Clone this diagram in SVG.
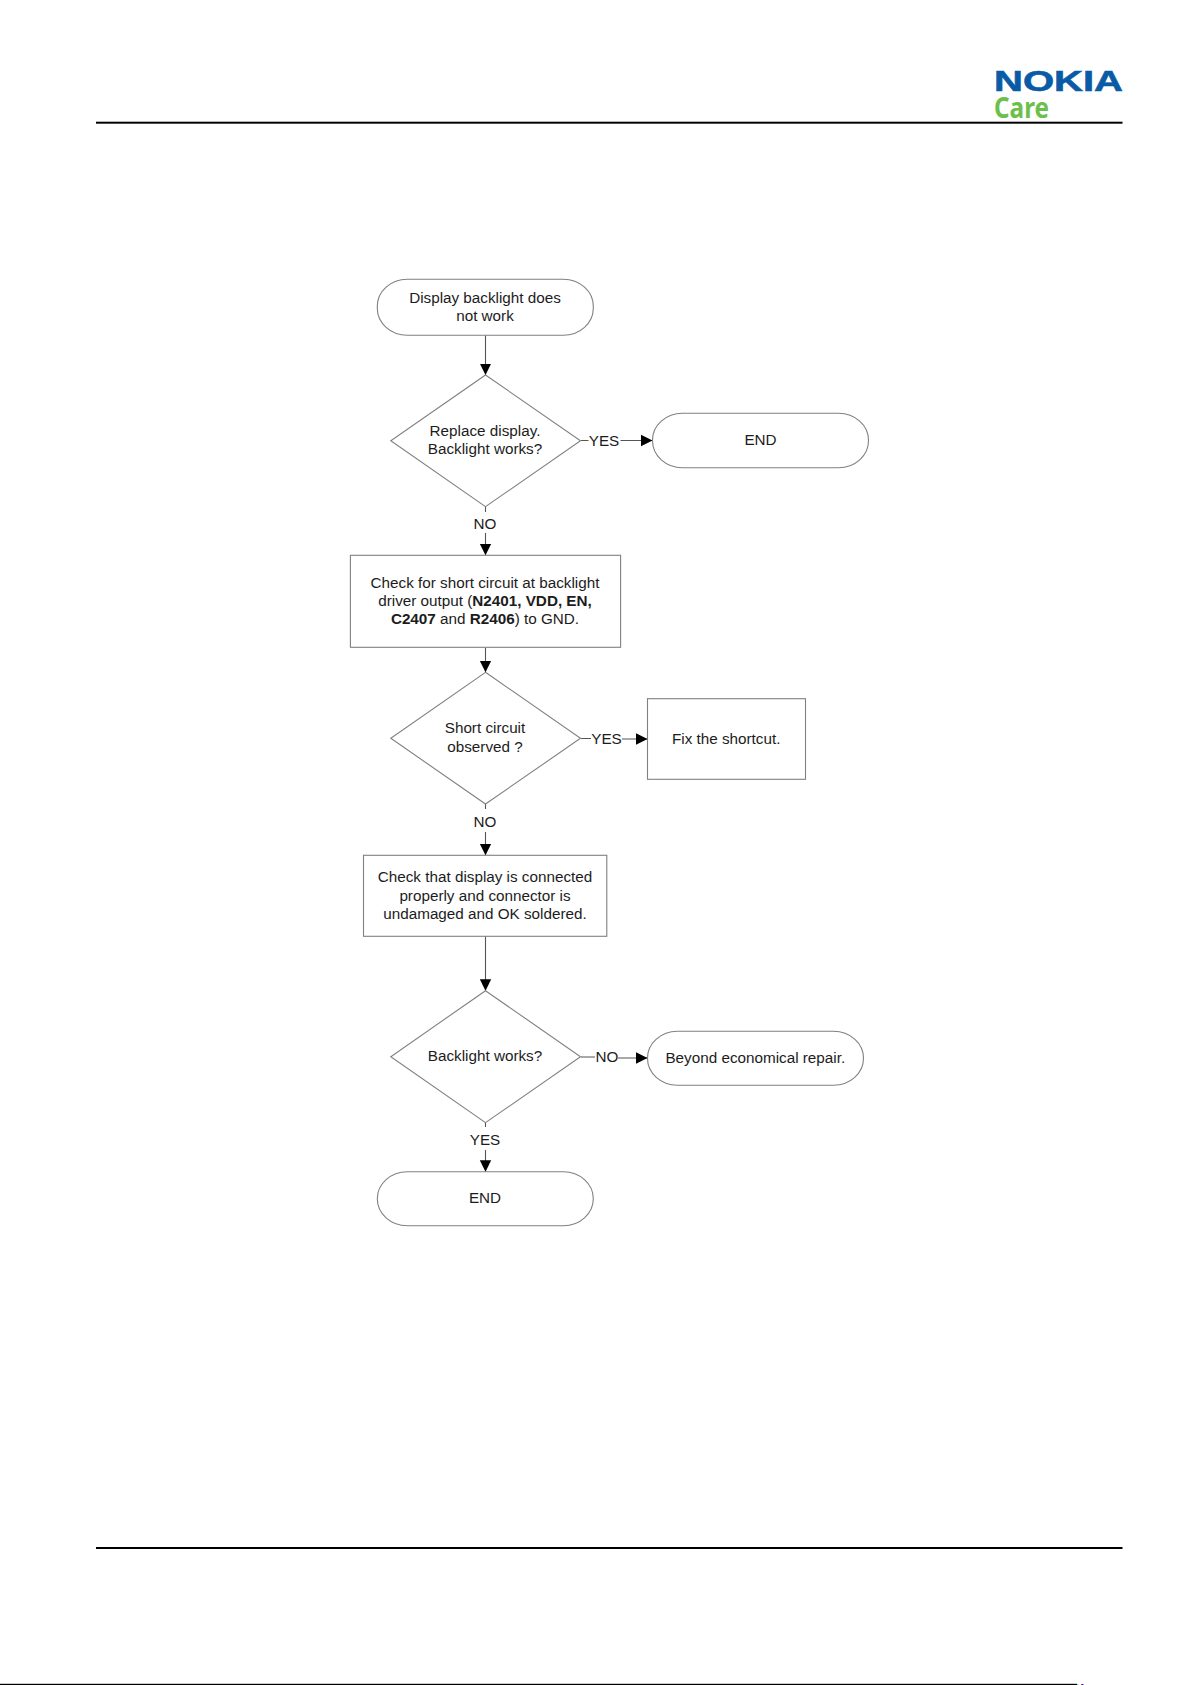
<svg xmlns="http://www.w3.org/2000/svg" width="1192" height="1685" viewBox="0 0 1192 1685">
<style>
.s{fill:#fff;stroke:#808080;stroke-width:1.1}
.c{fill:none;stroke:#555;stroke-width:1.1}
text{font-family:"Liberation Sans",Arial,sans-serif;font-size:15.25px;fill:#1c1c1c;text-anchor:middle}
.b{font-weight:bold}
.rule{fill:#000}
</style>
<defs>
<marker id="a" markerUnits="userSpaceOnUse" markerWidth="13" markerHeight="13" refX="11.5" refY="6.5" orient="auto"><path d="M0 .8L11.5 6.5L0 12.2Z" fill="#000"/></marker>
</defs>
<rect width="1192" height="1685" fill="#fff"/>
<g id="header">
<text x="994" y="90.7" textLength="129" lengthAdjust="spacingAndGlyphs" style="font-size:29px;font-weight:bold;fill:#0a5ba6;text-anchor:start;stroke:#0a5ba6;stroke-width:.6">NOKIA</text>
<text x="994" y="118" textLength="55" lengthAdjust="spacingAndGlyphs" style="font-family:'Noto Sans',sans-serif;font-size:28px;font-weight:700;fill:#6cbf4b;text-anchor:start">Care</text>
<rect class="rule" x="96" y="121.7" width="1026.5" height="2"/>
</g>
<g id="connectors">
<path class="c" marker-end="url(#a)" d="M485.5 335.3V375"/>
<path class="c" marker-end="url(#a)" d="M581 440.5H588.5M620.5 440.5H652.5"/>
<path class="c" marker-end="url(#a)" d="M485.5 507V512M485.5 533V555.3"/>
<path class="c" marker-end="url(#a)" d="M485.5 647.3V672.3"/>
<path class="c" marker-end="url(#a)" d="M581 738.5H591M622 739H647.5"/>
<path class="c" marker-end="url(#a)" d="M485.5 804V809M485.5 832V855.3"/>
<path class="c" marker-end="url(#a)" d="M485.5 936.3V990.7"/>
<path class="c" marker-end="url(#a)" d="M581 1057H595M618 1058H647.5"/>
<path class="c" marker-end="url(#a)" d="M485.5 1122.7V1127M485.5 1150V1171.7"/>
</g>
<g id="start"><rect class="s" x="377.3" y="279.3" width="216" height="56" rx="30" ry="27"/><text x="485" y="303">Display backlight does</text><text x="485" y="321.3">not work</text></g>
<g id="d1"><path class="s" d="M485.5 375L580.5 440.7L485.5 506.7L390.8 440.7Z"/><text x="485" y="436">Replace display.</text><text x="485" y="454.3">Backlight works?</text></g>
<g id="end1"><rect class="s" x="652.5" y="413.3" width="216" height="54.5" rx="30" ry="27"/><text x="760.5" y="445.3">END</text></g>
<g id="box1"><rect class="s" x="350.4" y="555.3" width="270.2" height="92"/><text x="485" y="587.6">Check for short circuit at backlight</text><text x="485" y="605.6">driver output (<tspan class="b">N2401, VDD, EN,</tspan></text><text x="485" y="624"><tspan class="b">C2407</tspan> and <tspan class="b">R2406</tspan>) to GND.</text></g>
<g id="d2"><path class="s" d="M485.5 672.3L580.5 738.3L485.5 804L390.8 738.3Z"/><text x="485" y="733.3">Short circuit</text><text x="485" y="751.7">observed ?</text></g>
<g id="fix"><rect class="s" x="647.5" y="698.7" width="158" height="80.6"/><text x="726.2" y="744">Fix the shortcut.</text></g>
<g id="box2"><rect class="s" x="363.5" y="855.3" width="243.3" height="81"/><text x="485" y="882.3">Check that display is connected</text><text x="485" y="900.5">properly and connector is</text><text x="485" y="918.7">undamaged and OK soldered.</text></g>
<g id="d3"><path class="s" d="M485.5 990.7L580.5 1056.7L485.5 1122.7L390.8 1056.7Z"/><text x="485" y="1061">Backlight works?</text></g>
<g id="ber"><rect class="s" x="647.5" y="1031.3" width="216" height="54" rx="30" ry="27"/><text x="755.3" y="1062.7">Beyond economical repair.</text></g>
<g id="end2"><rect class="s" x="377.3" y="1171.7" width="216" height="54" rx="30" ry="27"/><text x="485" y="1203">END</text></g>
<g id="labels">
<text x="604" y="446.3">YES</text>
<text x="485" y="528.7">NO</text>
<text x="606.5" y="743.7">YES</text>
<text x="485" y="826.7">NO</text>
<text x="607" y="1062.3">NO</text>
<text x="485" y="1145.3">YES</text>
</g>
<g id="footer">
<rect class="rule" x="96" y="1547" width="1026.5" height="2"/>
<rect class="rule" x="0" y="1683.8" width="1077" height="1.2"/>
<rect x="1077.3" y="1684" width="1" height="1" fill="#3cc"/>
<rect x="1081" y="1684" width="1" height="1" fill="#e33"/>
<rect x="1082" y="1684" width="1.5" height="1" fill="#22d"/>
</g>
</svg>
